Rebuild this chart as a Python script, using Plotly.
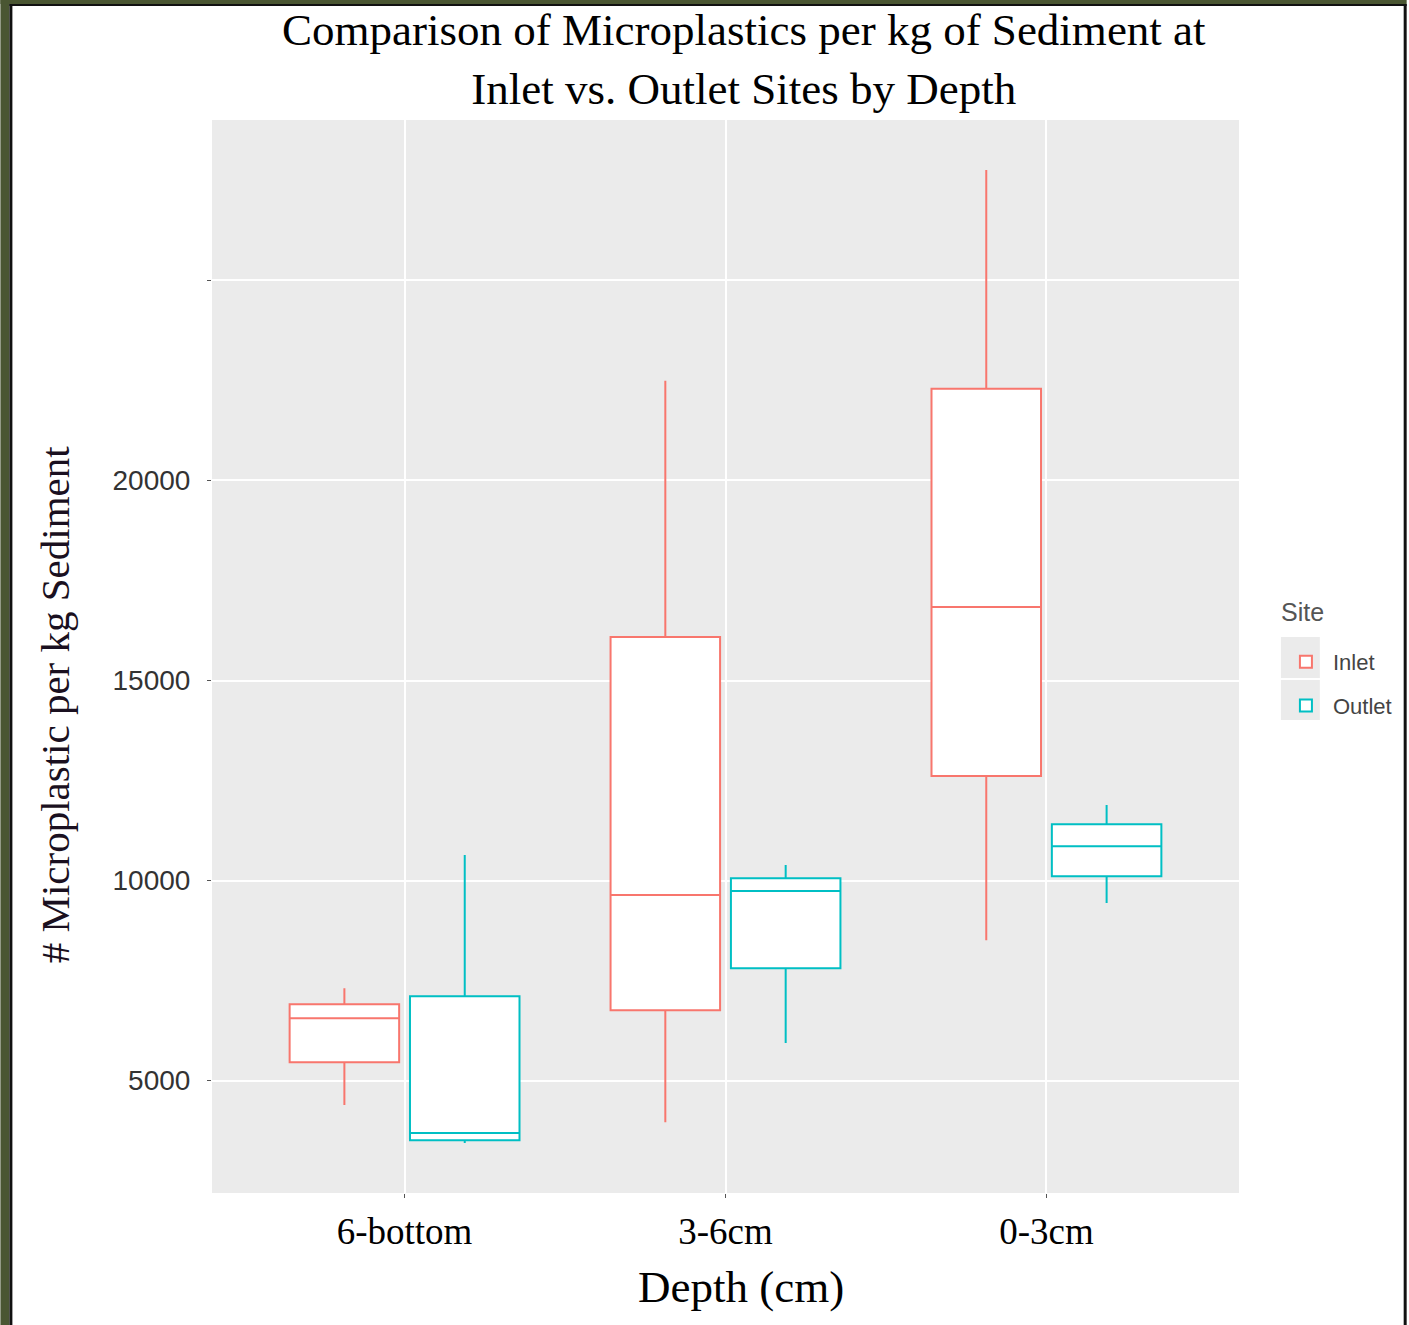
import plotly.graph_objects as go

# ---- data ----
depths = ["6-bottom", "3-6cm", "0-3cm"]

inlet_lower = [4390, 3960, 8510]
inlet_q1 = [5460, 6760, 12610]
inlet_median = [6560, 9640, 16840]
inlet_q3 = [6910, 16090, 22290]
inlet_upper = [7310, 22490, 27760]

outlet_lower = [3440, 5940, 9440]
outlet_q1 = [3510, 7810, 10110]
outlet_median = [3690, 9740, 10860]
outlet_q3 = [7110, 10060, 11410]
outlet_upper = [10640, 10390, 11890]

y_tickvals = [5000, 10000, 15000, 20000, 25000]
y_ticktext = ["5000", "10000", "15000", "20000", ""]

INLET_COLOR = "#F8766D"
OUTLET_COLOR = "#00BFC4"

# ---- layout geometry ----
W, H = 1409, 1325
L, R, T, B = 212, 1241, 120, 1193


def px_x(x):
    return (x - L) / (R - L)


def px_y(y):
    return (B - y) / (B - T)


fig = go.Figure()

fig.add_trace(go.Box(
    name="Inlet", x=depths, legendgroup="inlet",
    lowerfence=inlet_lower, q1=inlet_q1, median=inlet_median,
    q3=inlet_q3, upperfence=inlet_upper,
    boxpoints=False, whiskerwidth=0,
    line=dict(color=INLET_COLOR, width=2), fillcolor="white",
))
fig.add_trace(go.Box(
    name="Outlet", x=depths, legendgroup="outlet",
    lowerfence=outlet_lower, q1=outlet_q1, median=outlet_median,
    q3=outlet_q3, upperfence=outlet_upper,
    boxpoints=False, whiskerwidth=0,
    line=dict(color=OUTLET_COLOR, width=2), fillcolor="white",
))

serif = "Liberation Serif, Times New Roman, serif"
sans = "Liberation Sans, Arial, sans-serif"

olive = "#4a5632"


def rect(x0, x1, y0, y1, color):
    return dict(type="rect", xref="paper", yref="paper",
                x0=px_x(x0), x1=px_x(x1), y0=px_y(y1), y1=px_y(y0),
                fillcolor=color, line=dict(width=0), layer="above")


shapes = [
    rect(0, 9, 0, H, olive),          # left olive band
    rect(9, 12, 4, H, "#111111"),     # left black line
    rect(0, W, 0, 4, olive),          # top olive band
    rect(9, W, 4, 6, "#111111"),      # top black line
    rect(1406, W, 4, H, "#111111"),   # right black line
    # legend key backgrounds
    rect(1283, 1322, 637, 678, "#EBEBEB"),
    rect(1283, 1322, 680, 720, "#EBEBEB"),
]

fig.update_layout(
    width=W, height=H,
    margin=dict(l=L, r=W - R, t=T, b=H - B, pad=0),
    paper_bgcolor="white",
    plot_bgcolor="#EBEBEB",
    boxmode="group", boxgap=0.25, boxgroupgap=0.09,
    xaxis=dict(
        range=[-0.6, 2.6],
        showgrid=True, gridcolor="white", gridwidth=2,
        zeroline=False, showline=False,
        ticks="outside", ticklen=4, tickcolor="#555555",
        tickfont=dict(family=serif, size=37, color="#000000"),
        ticklabelstandoff=2,
    ),
    yaxis=dict(
        range=[2190, 29010],
        tickvals=y_tickvals, ticktext=y_ticktext,
        showgrid=True, gridcolor="white", gridwidth=2,
        zeroline=False, showline=False,
        ticks="outside", ticklen=4, tickcolor="#555555",
        tickfont=dict(family=sans, size=28, color="#333333"),
        ticklabelstandoff=11,
    ),
    legend=dict(
        font=dict(family=sans, size=22, color="#444444"),
        x=px_x(1281), y=px_y(641), xanchor="left", yanchor="top",
        bgcolor="rgba(0,0,0,0)", tracegroupgap=12, itemwidth=44,
    ),
    annotations=[
        dict(
            text="Comparison of Microplastics per kg of Sediment at<br>Inlet vs. Outlet Sites by Depth",
            xref="paper", yref="paper", x=px_x(745), y=px_y(3),
            xanchor="center", yanchor="top", showarrow=False,
            font=dict(family=serif, size=45, color="#000000"),
        ),
        dict(
            text="Depth (cm)", xref="paper", yref="paper",
            x=px_x(742), y=px_y(1287), xanchor="center", yanchor="middle",
            showarrow=False, font=dict(family=serif, size=45, color="#000000"),
        ),
        dict(
            text="# Microplastic per kg Sediment", textangle=-90,
            xref="paper", yref="paper", x=px_x(55), y=px_y(704),
            xanchor="center", yanchor="middle", showarrow=False,
            font=dict(family=serif, size=41, color="#1a1020"),
        ),
        dict(
            text="Site", xref="paper", yref="paper",
            x=px_x(1281), y=px_y(612), xanchor="left", yanchor="middle",
            showarrow=False, font=dict(family=sans, size=25, color="#555555"),
        ),
    ],
    shapes=shapes,
    showlegend=True,
)

fig.write_html("out.html", config={"displayModeBar": False},
               post_script="document.body.style.margin='0';")
